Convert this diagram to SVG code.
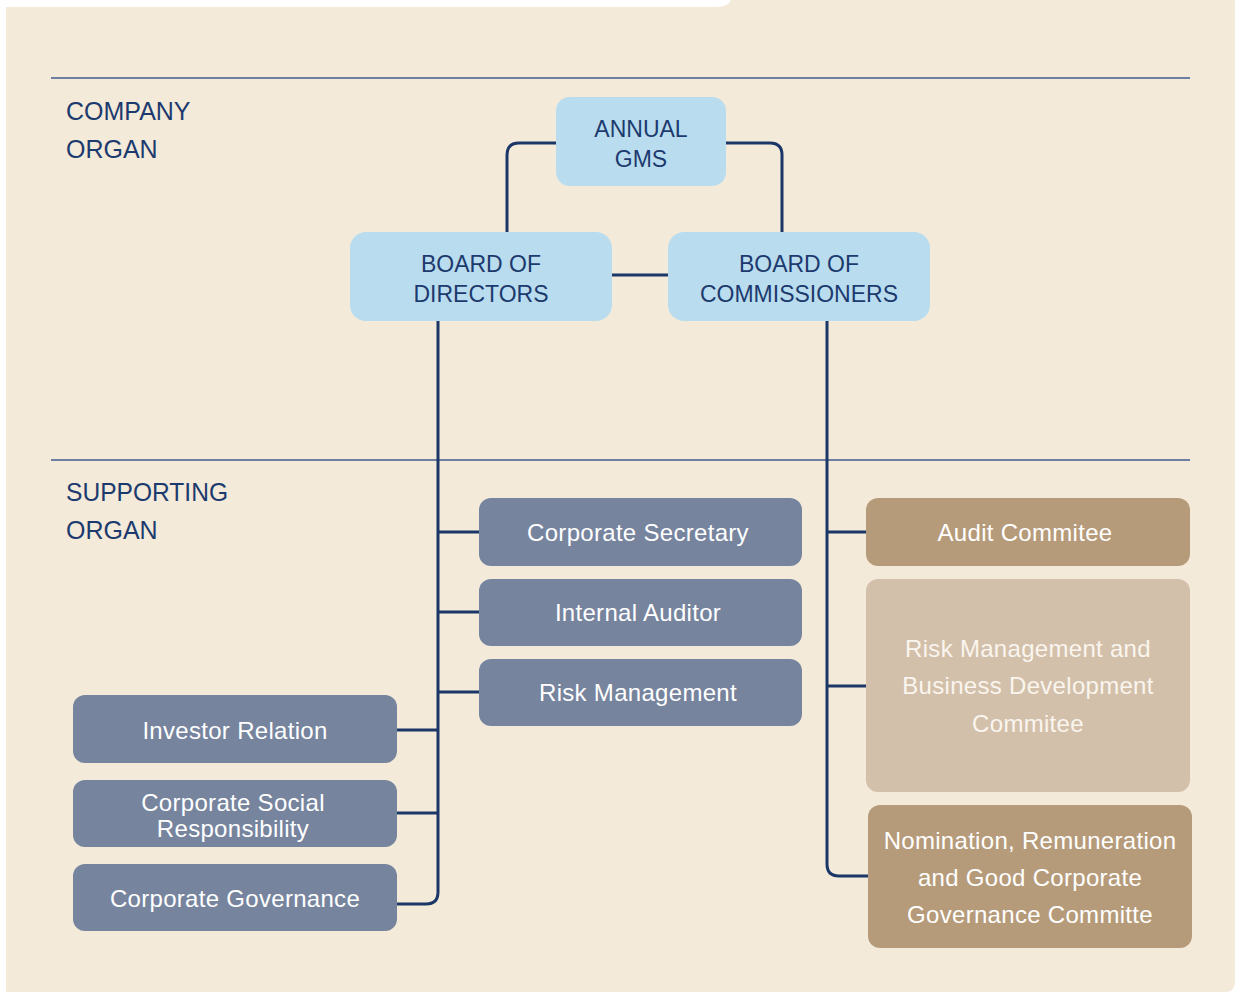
<svg xmlns="http://www.w3.org/2000/svg" width="1239" height="992" viewBox="0 0 1239 992">
<style>
.lbl{font-family:"Liberation Sans","DejaVu Sans",sans-serif;font-size:25px;fill:#1d3a6e}
.top{fill:#b9ddee}
.top-t{font-family:"Liberation Sans","DejaVu Sans",sans-serif;font-size:23px;fill:#1d3a6e;text-anchor:middle}
.blue{fill:#76849e}
.tan{fill:#b69b7a}
.light{fill:#d3c0aa}
.wt{font-family:"Liberation Sans","DejaVu Sans",sans-serif;font-size:24px;fill:#ffffff;text-anchor:middle;letter-spacing:0.3px}
.lt{fill:#faf5ee}
.conn{fill:none;stroke:#1b3768;stroke-width:3}
.rule{stroke:#3f5b8c;stroke-width:1.5}
</style>
<rect width="1239" height="992" fill="#ffffff"/>
<path d="M6,7 H716 Q728,7 731,0 H1235 V982 Q1235,992 1225,992 H6 Z" fill="#f3eada"/>
<line class="rule" x1="51" y1="78" x2="1190" y2="78"/>
<line class="rule" x1="51" y1="460" x2="1190" y2="460"/>
<text class="lbl" x="66" y="120">COMPANY</text>
<text class="lbl" x="66" y="158">ORGAN</text>
<text class="lbl" x="66" y="501" textLength="162" lengthAdjust="spacingAndGlyphs">SUPPORTING</text>
<text class="lbl" x="66" y="539">ORGAN</text>
<g id="connectors">
<path class="conn" d="M556,143 H519 Q507,143 507,155 V232"/>
<path class="conn" d="M726,143 H770 Q782,143 782,155 V232"/>
<path class="conn" d="M612,275 H668"/>
<path class="conn" d="M438,321 V892 Q438,904 426,904 H397"/>
<path class="conn" d="M438,532 H479 M438,612 H479 M438,692 H479"/>
<path class="conn" d="M397,730 H438 M397,813 H438"/>
<path class="conn" d="M827,321 V864 Q827,876 839,876 H868"/>
<path class="conn" d="M827,532 H866 M827,686 H866"/>
</g>
<g id="annual-gms"><rect class="top" x="556" y="97" width="170" height="89" rx="14"/><text class="top-t" x="641" y="137">ANNUAL</text><text class="top-t" x="641" y="167">GMS</text></g>
<g id="board-directors"><rect class="top" x="350" y="232" width="262" height="89" rx="16"/><text class="top-t" x="481" y="272">BOARD OF</text><text class="top-t" x="481" y="302">DIRECTORS</text></g>
<g id="board-commissioners"><rect class="top" x="668" y="232" width="262" height="89" rx="16"/><text class="top-t" x="799" y="272">BOARD OF</text><text class="top-t" x="799" y="302">COMMISSIONERS</text></g>
<g id="corporate-secretary"><rect class="blue" x="479" y="498" width="323" height="68" rx="12"/><text class="wt" x="638" y="541">Corporate Secretary</text></g>
<g id="internal-auditor"><rect class="blue" x="479" y="579" width="323" height="67" rx="12"/><text class="wt" x="638" y="621">Internal Auditor</text></g>
<g id="risk-management"><rect class="blue" x="479" y="659" width="323" height="67" rx="12"/><text class="wt" x="638" y="701">Risk Management</text></g>
<g id="investor-relation"><rect class="blue" x="73" y="695" width="324" height="68" rx="12"/><text class="wt" x="235" y="739">Investor Relation</text></g>
<g id="csr"><rect class="blue" x="73" y="780" width="324" height="67" rx="12"/><text class="wt" x="233" y="811">Corporate Social</text><text class="wt" x="233" y="837">Responsibility</text></g>
<g id="corporate-governance"><rect class="blue" x="73" y="864" width="324" height="67" rx="12"/><text class="wt" x="235" y="907">Corporate Governance</text></g>
<g id="audit-commitee"><rect class="tan" x="866" y="498" width="324" height="68" rx="12"/><text class="wt" x="1025" y="541">Audit Commitee</text></g>
<g id="risk-business-commitee"><rect class="light" x="866" y="579" width="324" height="213" rx="12"/><text class="wt lt" x="1028" y="657">Risk Management and</text><text class="wt lt" x="1028" y="694">Business Development</text><text class="wt lt" x="1028" y="732">Commitee</text></g>
<g id="nomination-commitee"><rect class="tan" x="868" y="805" width="324" height="143" rx="12"/><text class="wt" x="1030" y="849">Nomination, Remuneration</text><text class="wt" x="1030" y="886">and Good Corporate</text><text class="wt" x="1030" y="923">Governance Committe</text></g>
</svg>
